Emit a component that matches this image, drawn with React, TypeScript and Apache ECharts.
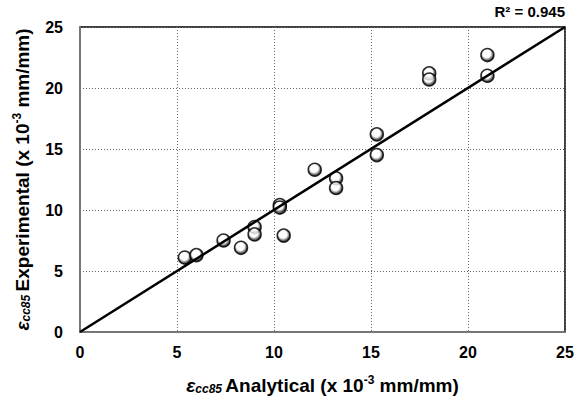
import React, { useEffect, useRef } from "react";
import * as echarts from "echarts";

const analytical = [5.4, 6.0, 7.4, 8.3, 9.0, 9.0, 10.3, 10.3, 10.5, 12.1, 13.2, 13.2, 15.3, 15.3, 18.0, 18.0, 21.0, 21.0];
const experimental = [6.1, 6.3, 7.5, 6.9, 8.6, 8.0, 10.4, 10.2, 7.9, 13.3, 12.6, 11.8, 16.2, 14.5, 21.2, 20.7, 22.7, 21.0];
const fitX = [0, 25];
const fitY = [0, 25];
const r2Label = "R² = 0.945";
const axisTicks = { min: 0, max: 25, interval: 5 };

const FONT = "'Liberation Sans', Arial, Helvetica, sans-serif";

export default function App() {
  const ref = useRef<HTMLDivElement>(null);
  useEffect(() => {
    document.body.style.margin = "0";
    const chart = echarts.init(ref.current!, null, { renderer: "svg" });
    const points = analytical.map((x, i) => [x, experimental[i]]);
    const line = fitX.map((x, i) => [x, fitY[i]]);
    const titleRich = {
      e: { fontSize: 19, fontStyle: "italic", fontWeight: "bold", fontFamily: FONT, color: "#000", lineHeight: 21, verticalAlign: "bottom" },
      sub: { fontSize: 12, fontStyle: "italic", fontWeight: "bold", fontFamily: FONT, color: "#000", lineHeight: 12, verticalAlign: "bottom" },
      b: { fontSize: 19, fontWeight: "bold", fontFamily: FONT, color: "#000", lineHeight: 21, verticalAlign: "bottom" },
      sup: { fontSize: 12, fontWeight: "bold", fontFamily: FONT, color: "#000", lineHeight: 21, verticalAlign: "top" },
    };
    const gridLine = { show: true, lineStyle: { color: "#666", type: [1, 2] as any, width: 1 } };
    chart.setOption({
      animation: false,
      backgroundColor: "#fff",
      grid: { left: 80, right: 22, top: 27, bottom: 76, show: true, borderColor: "#000", borderWidth: 1.5 },
      xAxis: {
        type: "value",
        ...axisTicks,
        name: "{e|ε}{sub|cc85} {b|Analytical (x 10}{sup|-3}{b| mm/mm)}",
        nameLocation: "middle",
        nameGap: 42,
        nameTextStyle: { rich: titleRich },
        axisLine: { show: true, lineStyle: { color: "#888", width: 1.5 } },
        axisTick: { show: false },
        axisLabel: { fontSize: 16, fontWeight: "bold", color: "#000", fontFamily: FONT, margin: 12 },
        splitLine: gridLine,
      },
      yAxis: {
        type: "value",
        ...axisTicks,
        name: "{e|ε}{sub|cc85} {b|Experimental (x 10}{sup|-3}{b| mm/mm)}",
        nameLocation: "middle",
        nameGap: 48,
        nameRotate: 90,
        nameTextStyle: { rich: titleRich },
        axisLine: { show: true, lineStyle: { color: "#888", width: 1.5 } },
        axisTick: { show: false },
        axisLabel: { fontSize: 16, fontWeight: "bold", color: "#000", fontFamily: FONT, margin: 17 },
        splitLine: gridLine,
      },
      graphic: [
        {
          type: "text",
          right: 22,
          top: 4,
          style: { text: r2Label, fontSize: 15, fontWeight: "bold", fontFamily: FONT, fill: "#000" },
        },
      ],
      series: [
        {
          type: "scatter",
          data: points,
          symbol: "circle",
          symbolSize: 13,
          z: 3,
          itemStyle: {
            color: {
              type: "radial",
              x: 0.45,
              y: 0.4,
              r: 0.6,
              colorStops: [
                { offset: 0, color: "#fff" },
                { offset: 0.5, color: "#fff" },
                { offset: 0.8, color: "#444" },
                { offset: 1, color: "#000" },
              ],
            },
            borderColor: "#000",
            borderWidth: 1.5,
          },
        },
        {
          type: "line",
          data: line,
          symbol: "none",
          z: 4,
          lineStyle: { color: "#000", width: 2.5 },
        },
      ],
    });
    return () => chart.dispose();
  }, []);
  return <div ref={ref} style={{ position: "absolute", left: 0, top: 0, width: 587, height: 408 }} />;
}
